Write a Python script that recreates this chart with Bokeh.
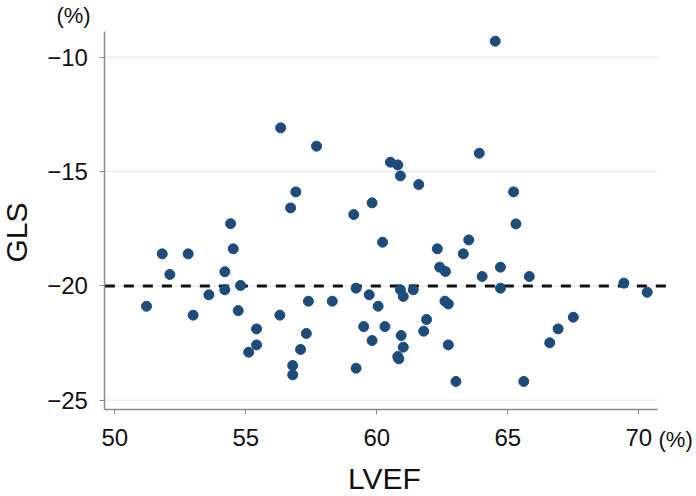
import math
from bokeh.plotting import figure
from bokeh.models import Label, FixedTicker
from bokeh.embed import file_html
from bokeh.resources import INLINE

# ---- data ----
lvef = [56.33, 57.70, 60.52, 60.80, 60.90, 56.91, 56.71, 59.82, 59.12, 54.42,
        64.52, 61.60, 63.91, 65.22, 60.22, 51.81, 52.80, 52.10, 54.52, 54.20,
        54.20, 54.80, 53.59, 51.21, 52.99, 54.71, 55.41, 55.41, 55.11, 56.30,
        57.39, 57.31, 57.09, 56.79, 56.79, 58.30, 59.21, 59.71, 60.05, 59.50,
        60.31, 59.82, 59.21, 62.31, 63.51, 63.30, 65.31, 62.40, 62.62, 64.02,
        64.72, 65.82, 64.72, 69.43, 70.32, 60.90, 61.01, 61.39, 62.60, 62.73,
        61.90, 61.79, 60.93, 61.01, 60.80, 60.84, 62.73, 63.02, 65.61, 66.60,
        66.92, 67.50]
gls = [-13.09, -13.89, -14.59, -14.71, -15.19, -15.89, -16.59, -16.37, -16.88, -17.28,
       -9.30, -15.57, -14.20, -15.89, -18.09, -18.60, -18.60, -19.50, -18.38, -19.38,
       -20.17, -19.98, -20.39, -20.89, -21.28, -21.08, -21.88, -22.58, -22.90, -21.28,
       -20.67, -22.08, -22.78, -23.48, -23.89, -20.67, -20.10, -20.39, -20.89, -21.78,
       -21.78, -22.39, -23.60, -18.38, -17.99, -18.60, -17.29, -19.18, -19.37, -19.59,
       -19.18, -19.59, -20.10, -19.88, -20.28, -20.17, -20.46, -20.17, -20.67, -20.79,
       -21.47, -21.98, -22.17, -22.68, -23.09, -23.19, -22.58, -24.18, -24.18, -22.49,
       -21.88, -21.37]
reference_gls = -20

x_ticks = [50, 55, 60, 65, 70]
x_tick_labels = ["50", "55", "60", "65", "70"]
y_ticks = [-25, -20, -15, -10]
y_tick_labels = ["\u221225", "\u221220", "\u221215", "\u221210"]

x_title = "LVEF"
y_title = "GLS"
unit_text = "(%)"

# plot box (axis extents) in data units
X_LO, X_HI = 49.62, 70.70
Y_LO, Y_HI = -25.42, -8.86
DASH_HI = 71.06

FONT = "Liberation Sans"
AXIS_GRAY = "#8a8a8a"
TEXT = "#111111"

W, H = 696, 496
p = figure(width=W, height=H, output_backend="svg", toolbar_location=None,
           x_range=(45.637, 72.202), y_range=(-29.209, -7.521),
           min_border=0, min_border_left=0, min_border_right=0,
           min_border_top=0, min_border_bottom=0)
p.outline_line_color = None
p.background_fill_color = "white"
p.xgrid.grid_line_color = None
p.ygrid.grid_line_color = None

# axes drawn at the plot box edges
p.xaxis.fixed_location = Y_LO
p.yaxis.fixed_location = X_LO
p.xaxis.bounds = (X_LO, X_HI)
p.yaxis.bounds = (Y_LO, Y_HI)
p.xaxis.ticker = FixedTicker(ticks=x_ticks)
p.yaxis.ticker = FixedTicker(ticks=y_ticks)
p.xaxis.major_label_overrides = {t: l for t, l in zip(x_ticks, x_tick_labels)}
p.yaxis.major_label_overrides = {t: l for t, l in zip(y_ticks, y_tick_labels)}
for ax in (p.xaxis, p.yaxis):
    ax.axis_line_color = AXIS_GRAY
    ax.axis_line_width = 1.5
    ax.major_tick_line_color = AXIS_GRAY
    ax.major_tick_in = 0
    ax.major_tick_out = 5
    ax.minor_tick_line_color = None
    ax.major_label_text_font = FONT
    ax.major_label_text_font_size = "24px"
    ax.major_label_text_color = TEXT
p.xaxis.major_label_standoff = 14
p.yaxis.major_label_standoff = 12

# horizontal grid lines inside the plot box
p.segment(x0=[X_LO] * len(y_ticks), x1=[X_HI] * len(y_ticks), y0=y_ticks, y1=y_ticks,
          line_color="#e8eeee", line_width=1.5)

# reference line
p.segment(x0=[X_LO], x1=[DASH_HI], y0=[reference_gls], y1=[reference_gls],
          line_color=TEXT, line_width=3, line_dash="10 9")

# points
p.scatter(lvef, gls, size=10, fill_color="#1d4b7a", line_color="#1d4b7a", line_width=1)

# titles and units (screen units: x from left, y from bottom of canvas)
p.add_layout(Label(x=16, y=264, x_units="screen", y_units="screen", text=y_title,
                   angle=math.pi / 2, text_align="center", text_baseline="middle",
                   text_font=FONT, text_font_size="30px", text_color=TEXT))
p.add_layout(Label(x=384, y=18, x_units="screen", y_units="screen", text=x_title,
                   text_align="center", text_baseline="middle",
                   text_font=FONT, text_font_size="30px", text_color=TEXT))
p.add_layout(Label(x=73, y=481, x_units="screen", y_units="screen", text=unit_text,
                   text_align="center", text_baseline="middle",
                   text_font=FONT, text_font_size="22px", text_color=TEXT))
p.add_layout(Label(x=658, y=57, x_units="screen", y_units="screen", text=unit_text,
                   text_align="left", text_baseline="middle",
                   text_font=FONT, text_font_size="22px", text_color=TEXT))

open("out.html", "w").write(file_html(p, INLINE))
